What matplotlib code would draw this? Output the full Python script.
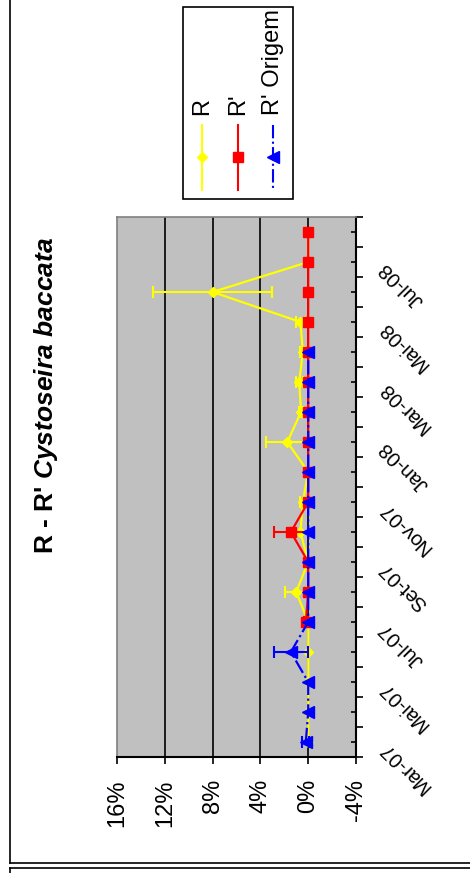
import numpy as np
import matplotlib.pyplot as plt
from matplotlib.lines import Line2D
from matplotlib.patches import Rectangle

plt.rcParams['font.family'] = ['Liberation Sans', 'DejaVu Sans']
plt.rcParams['mathtext.fontset'] = 'custom'
plt.rcParams['mathtext.it'] = 'Liberation Sans:bold:italic'
plt.rcParams['mathtext.rm'] = 'Liberation Sans:bold'

# monthly samples, Mar-07 .. Ago-08 (values in %)
n_samples = 18
tick_pos = [0, 2, 4, 6, 8, 10, 12, 14, 16]
tick_labels = ['Mar-07', 'Mai-07', 'Jul-07', 'Set-07', 'Nov-07',
               'Jan-08', 'Mar-08', 'Mai-08', 'Jul-08']

nan = np.nan
r_vals = [0, 0, 0, 0, 0, 1.0, 0, 0.65, 0.45, 0, 1.75, 0.6, 0.75, 0.45, 0.65, 8.0, 0, 0]
r_err = [0, 0, 0, 0, 0, 0.9, 0, 0, 0.2, 0, 1.75, 0.2, 0.3, 0.2, 0.4, 5.0, 0, 0]
rp_vals = [nan, nan, nan, nan, 0.2, 0, 0, 1.45, 0, 0, 0, 0, 0, 0, 0, 0, 0, 0]
rp_err = [0, 0, 0, 0, 0.15, 0, 0, 1.4, 0, 0, 0, 0, 0, 0, 0, 0, 0, 0]
ro_vals = [0.2, 0, 0, 1.45, 0, 0, 0, 0, 0, 0, 0, 0, 0, 0, nan, nan, nan, nan]
ro_err = [0.3, 0, 0, 1.4, 0, 0, 0, 0, 0, 0, 0, 0, 0, 0, 0, 0, 0, 0]

value_ticks = [16, 12, 8, 4, 0, -4]

W, H = 470, 873


def fx(px):
    return px / W


def fy(py):
    return 1 - py / H


fig = plt.figure(figsize=(W / 100, H / 100), dpi=100)
fig.patch.set_facecolor('white')

# chart is laid out turned on its side: value axis runs horizontally
ax = fig.add_axes([fx(117), fy(757), (356 - 117) / W, (757 - 217) / H])
ax.set_facecolor('#C0C0C0')

idx = np.arange(n_samples)
series = [
    ('R', r_vals, r_err, '#FFFF00', 'D', 5.5, '-'),
    ("R'", rp_vals, rp_err, '#FF0000', 's', 7, '-'),
    ("R' Origem", ro_vals, ro_err, '#0000FF', '<', 9, '-.'),
]
for z, (name, vals, err, col, mk, ms, ls) in enumerate(series):
    vals = np.array(vals, dtype=float)
    err = np.array(err, dtype=float)
    ax.plot(vals, idx, color=col, ls=ls, lw=1.6, marker=mk, ms=ms,
            mec=col, mfc=col, zorder=3 + z)
    sel = err > 0
    ax.errorbar(vals[sel], idx[sel], xerr=err[sel], fmt='none', ecolor=col,
                elinewidth=1.5, capsize=4, capthick=1.5, zorder=3 + z)

ax.set_xlim(16, -4)
ax.set_ylim(-0.5, 17.5)

for v in [12, 8, 4, 0]:
    ax.axvline(v, color='black', lw=1.2, zorder=1)

ax.set_xticks(value_ticks)
ax.set_xticklabels([f'{v}%' for v in value_ticks], rotation=90, fontsize=17)
ax.tick_params(axis='x', direction='out', length=5, width=1.2, pad=11)

ax.yaxis.tick_right()
ax.set_yticks(np.arange(-0.5, n_samples, 1))
ax.set_yticks(idx, minor=True)
ax.set_yticklabels([])
ax.tick_params(axis='y', which='major', direction='out', length=5, width=1.2)
ax.tick_params(axis='y', which='minor', direction='in', length=3.5, width=1.2)

for pos, lab in zip(tick_pos, tick_labels):
    ax.annotate(lab, xy=(1, pos), xycoords=('axes fraction', 'data'),
                xytext=(19, -2), textcoords='offset points', rotation=135,
                rotation_mode='anchor', ha='right', va='center', fontsize=14.5)

for side in ['left', 'top']:
    ax.spines[side].set_color('#808080')
    ax.spines[side].set_linewidth(1.2)
for side in ['right', 'bottom']:
    ax.spines[side].set_color('black')
    ax.spines[side].set_linewidth(1.5)

fig.text(fx(53), fy(395), r"R - R' $\mathit{Cystoseira\ baccata}$",
         rotation=90, rotation_mode='anchor', ha='center', va='baseline',
         fontsize=19, fontweight='bold')

# legend box, entries stacked left to right
fig.add_artist(Rectangle((fx(183), fy(199)), (293 - 183) / W, (199 - 7) / H,
                         transform=fig.transFigure, fill=False, ec='black', lw=1.2))
for x, (name, vals, err, col, mk, ms, ls) in zip([202, 238, 273], series):
    fig.add_artist(Line2D([fx(x), fx(x)], [fy(125), fy(190)], color=col, ls=ls,
                          lw=1.5, transform=fig.transFigure))
    fig.add_artist(Line2D([fx(x)], [fy(157)], marker=mk, ms=ms, color=col,
                          mec=col, ls='none', transform=fig.transFigure))
    fig.text(fx(x), fy(115), name, rotation=90, rotation_mode='anchor',
             ha='left', va='center', fontsize=17)

# outer chart frame and the top of the next one
for xs, ys in [([10, 10], [0, 863]), ([10, 470], [863, 863]),
               ([10, 470], [868, 868]), ([10, 10], [868, 873])]:
    fig.add_artist(Line2D([fx(x) for x in xs], [fy(y) for y in ys],
                          color='black', lw=1.2, transform=fig.transFigure))

fig.savefig('out.png', dpi=100)
